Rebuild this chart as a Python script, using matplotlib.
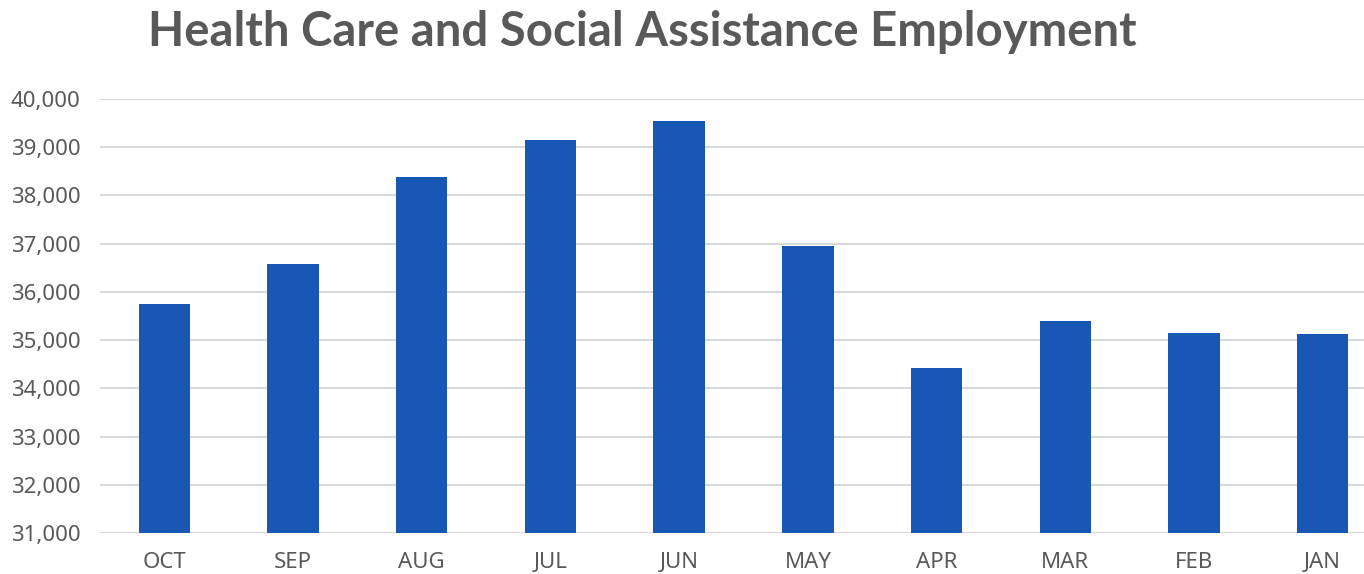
import matplotlib.pyplot as plt
from matplotlib.ticker import FuncFormatter

months = ["OCT", "SEP", "AUG", "JUL", "JUN", "MAY", "APR", "MAR", "FEB", "JAN"]
employment = [35750, 36580, 38390, 39150, 39550, 36950, 34420, 35400, 35150, 35130]
y_ticks = list(range(31000, 40001, 1000))

plt.rcParams['font.family'] = ['Noto Sans', 'DejaVu Sans']

fig = plt.figure(figsize=(13.64, 5.74), dpi=100)
ax = fig.add_axes([100 / 1364, 41 / 574, 1287 / 1364, 434 / 574])

ax.bar(range(len(months)), employment, width=0.4, color="#1957B5", zorder=3)

ax.set_xlim(-0.5, len(months) - 0.5)
ax.set_ylim(31000, 40000)
ax.set_yticks(y_ticks)
ax.yaxis.set_major_formatter(FuncFormatter(lambda v, p: "{:,.0f}".format(v)))
ax.set_xticks(range(len(months)))
ax.set_xticklabels(months)

ax.grid(axis="y", color="#D9D9D9", linewidth=1.5, zorder=0)
for s in ax.spines.values():
	s.set_visible(False)
ax.tick_params(axis="both", length=0, labelsize=16, labelcolor="#595959")
ax.tick_params(axis="y", pad=14)
ax.tick_params(axis="x", pad=14)

fig.text(642 / 1364, 1 - 32 / 574, "Health Care and Social Assistance Employment",
	ha="center", va="center", fontsize=34, fontweight="bold", color="#595959",
	family=["Lato", "DejaVu Sans"])

fig.savefig("out.png", dpi=100)
